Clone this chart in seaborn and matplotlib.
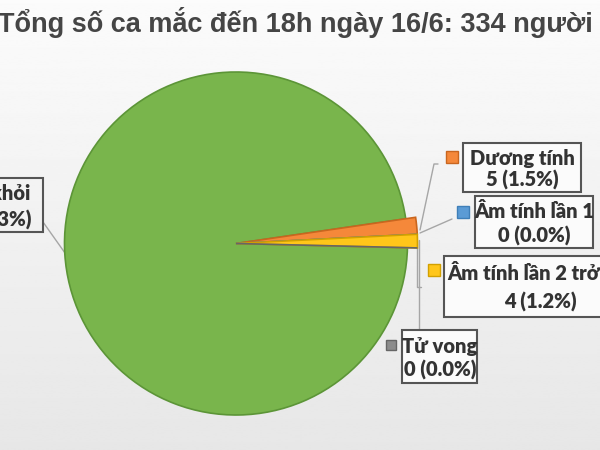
"""
plot.py
───────
Pie chart of COVID-19 cases by status (16/6, 18h), labels in boxes on the side.
"""

import numpy as np
import matplotlib
matplotlib.use("Agg")
import matplotlib.pyplot as plt
import seaborn as sns
from matplotlib.patches import Rectangle

# ── Data ─────────────────────────────────────────────────────────────────────

TITLE = "Tổng số ca mắc đến 18h ngày 16/6: 334 người"
categories = ["Dương tính", "Âm tính lần 1", "Âm tính lần 2 trở lên", "Tử vong", "Đã khỏi"]
values = [5, 0, 4, 0, 325]
colors = ["#f5883a", "#5b9bd5", "#ffc61a", "#8c8c8c", "#79b54c"]
edges = ["#c9661f", "#3f7fb8", "#d2a000", "#666666", "#5c9537"]

# ── Layout (pixel coords, y from top) ────────────────────────────────────────

W, H = 600, 450
CX, CY, R = 236, 243.5, 171.5
START = 8.3  # first slice starts just above horizontal, going clockwise

# box (x0, x1, y0, y1), marker (x0, y0, size), line centres y, text centre x
LABELS = {
    "Dương tính":            dict(box=(463, 581, 143, 192), mk=(446, 151, 12), ly=(158, 180), tx=522),
    "Âm tính lần 1":         dict(box=(475, 593, 196, 248), mk=(457, 206, 12), ly=(212, 236), tx=534),
    "Âm tính lần 2 trở lên": dict(box=(444, 612, 256, 317), mk=(428, 264, 12), ly=(273, 302), tx=540),
    "Tử vong":               dict(box=(402, 477, 330, 383), mk=(386, 340, 10), ly=(347, 370), tx=440),
}
LEADERS = [
    [(438, 164), (434, 164), (420, 230)],
    [(452, 219), (420, 233)],
    [(421, 287), (417, 287), (417, 240)],
    [(419, 330), (419, 240)],
    [(43, 222), (65, 253)],
]


def fy(y):
    return H - y


sns.set_theme(style="white")
plt.rcParams["font.family"] = ["Lato", "DejaVu Sans"]

fig = plt.figure(figsize=(6, 4.5), dpi=100)
ax = fig.add_axes([0, 0, 1, 1])

# soft vertical gradient background
grad = np.linspace(0.985, 0.905, 256).reshape(-1, 1)
ax.imshow(grad, extent=(0, W, 0, H), cmap="gray", vmin=0, vmax=1,
          aspect="auto", zorder=0)

total = sum(values)
wedges, _ = ax.pie(values, colors=colors, startangle=START, counterclock=False,
                   center=(CX, fy(CY)), radius=R, frame=True,
                   wedgeprops=dict(linewidth=1.2))
for w, ec, name in zip(wedges, edges, categories):
    w.set_edgecolor(ec)
    w.set_zorder(2)
    if name != "Đã khỏi":
        w.set_radius(R + 10)
        w.set_zorder(3)

# leader lines
for pts in LEADERS:
    xs, ys = zip(*pts)
    ax.plot(xs, [fy(y) for y in ys], color="#a6a6a6", lw=1, zorder=1)

txt_kw = dict(fontsize=14.5, fontweight="heavy", color="#333333", va="center", zorder=5)

for name, v, col, ec in zip(categories, values, colors, edges):
    pct = f"{v} ({v / total * 100:.1f}%)"
    if name == "Đã khỏi":
        ax.add_patch(Rectangle((-5, fy(232)), 48, 54, fill=False,
                               edgecolor="#555555", lw=1.5, zorder=4))
        ax.text(30, fy(193), name, ha="right", **txt_kw)
        ax.text(31, fy(220), pct, ha="right", **txt_kw)
        continue
    spec = LABELS[name]
    x0, x1, y0, y1 = spec["box"]
    ax.add_patch(Rectangle((x0, fy(y1)), x1 - x0, y1 - y0, facecolor="#fbfbfb",
                           edgecolor="#555555", lw=1.5, zorder=4))
    mx, my, ms = spec["mk"]
    ax.add_patch(Rectangle((mx, fy(my + ms)), ms, ms, facecolor=col,
                           edgecolor=ec, lw=1, zorder=4))
    ax.text(spec["tx"], fy(spec["ly"][0]), name, ha="center", **txt_kw)
    ax.text(spec["tx"], fy(spec["ly"][1]), pct, ha="center", **txt_kw)

ax.text(-2, fy(23), TITLE, ha="left", va="center", fontsize=19.5,
        fontweight="bold", color="#454545",
        family=["Liberation Sans", "DejaVu Sans"], zorder=5)

ax.set_xlim(0, W)
ax.set_ylim(0, H)
ax.set_aspect("equal")
ax.axis("off")

fig.savefig("out.png", dpi=100)
plt.close()
